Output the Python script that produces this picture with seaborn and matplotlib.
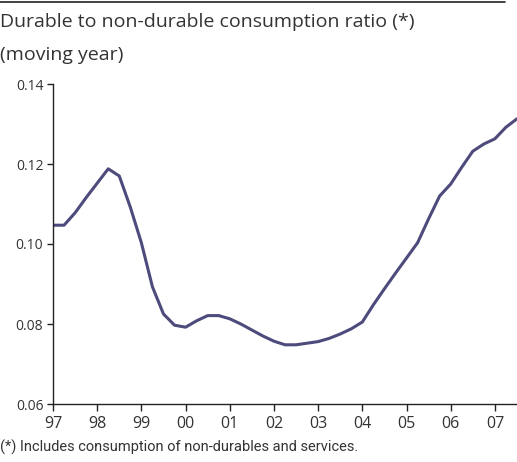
import numpy as np
import pandas as pd
import matplotlib
matplotlib.use('Agg')
import matplotlib.pyplot as plt
import seaborn as sns
from matplotlib.lines import Line2D

# quarterly data, 1997Q1 .. mid 2007 (moving year ratio)
quarters = [97.00, 97.25, 97.50, 97.75, 98.00, 98.25, 98.50, 98.75,
            99.00, 99.25, 99.50, 99.75, 100.00, 100.25, 100.50, 100.75,
            101.00, 101.25, 101.50, 101.75, 102.00, 102.25, 102.50, 102.75,
            103.00, 103.25, 103.50, 103.75, 104.00, 104.25, 104.50, 104.75,
            105.00, 105.25, 105.50, 105.75, 106.00, 106.25, 106.50, 106.75,
            107.00, 107.25, 107.50]
ratio = [0.1047, 0.1047, 0.1078, 0.1116, 0.1152, 0.1188, 0.1170, 0.1092,
         0.1003, 0.0893, 0.0825, 0.0797, 0.0792, 0.0808, 0.0821, 0.0821,
         0.0813, 0.0800, 0.0785, 0.0770, 0.0757, 0.0748, 0.0748, 0.0752,
         0.0756, 0.0764, 0.0775, 0.0788, 0.0805, 0.0848, 0.0888, 0.0927,
         0.0965, 0.1003, 0.1063, 0.1120, 0.1150, 0.1192, 0.1232, 0.1250,
         0.1263, 0.1292, 0.1313]
year_ticks = [97, 98, 99, 100, 101, 102, 103, 104, 105, 106, 107]
year_labels = ['97', '98', '99', '00', '01', '02', '03', '04', '05', '06', '07']
y_ticks = [0.06, 0.08, 0.10, 0.12, 0.14]

df = pd.DataFrame({'t': quarters, 'ratio': ratio})

sns.set_style('ticks')
plt.rcParams['font.family'] = ['Open Sans', 'DejaVu Sans']

W, H = 517, 462
fig = plt.figure(figsize=(W/100, H/100), dpi=100)
ax = fig.add_axes([53/W, 58/H, (W-53)/W, 320/H])

sns.lineplot(data=df, x='t', y='ratio', ax=ax, color='#4d4a7c', linewidth=2.2)

ax.set_xlim(97, 107.5)
ax.set_ylim(0.06, 0.14)
ax.set_xticks(year_ticks)
ax.set_xticklabels(year_labels)
ax.set_yticks(y_ticks)
ax.set_yticklabels([f'{v:.2f}' for v in y_ticks])
ax.set_xlabel('')
ax.set_ylabel('')
for s in ['top', 'right']:
    ax.spines[s].set_visible(False)
for s in ['left', 'bottom']:
    ax.spines[s].set_color('#222222')
    ax.spines[s].set_linewidth(1.0)
ax.tick_params(axis='x', length=5, width=1, color='#222222', labelsize=11.5, pad=4, labelcolor='#333333')
ax.tick_params(axis='y', length=4, width=1, color='#222222', labelsize=10, pad=3, labelcolor='#333333')

fig.add_artist(Line2D([0, 505/W], [1 - 2/H, 1 - 2/H], color='#222222', linewidth=1.2))
fig.text(0, 1 - 22/H, 'Durable to non-durable consumption ratio (*)', ha='left', va='center',
         fontsize=14, color='#333333')
fig.text(0, 1 - 55/H, '(moving year)', ha='left', va='center', fontsize=14, color='#333333')
fig.text(0, 1 - 447/H, '(*) Includes consumption of non-durables and services.', ha='left', va='center',
         fontsize=10.5, color='#333333', family=['Liberation Sans Narrow', 'Roboto', 'DejaVu Sans'])

fig.savefig('out.png', dpi=100)
